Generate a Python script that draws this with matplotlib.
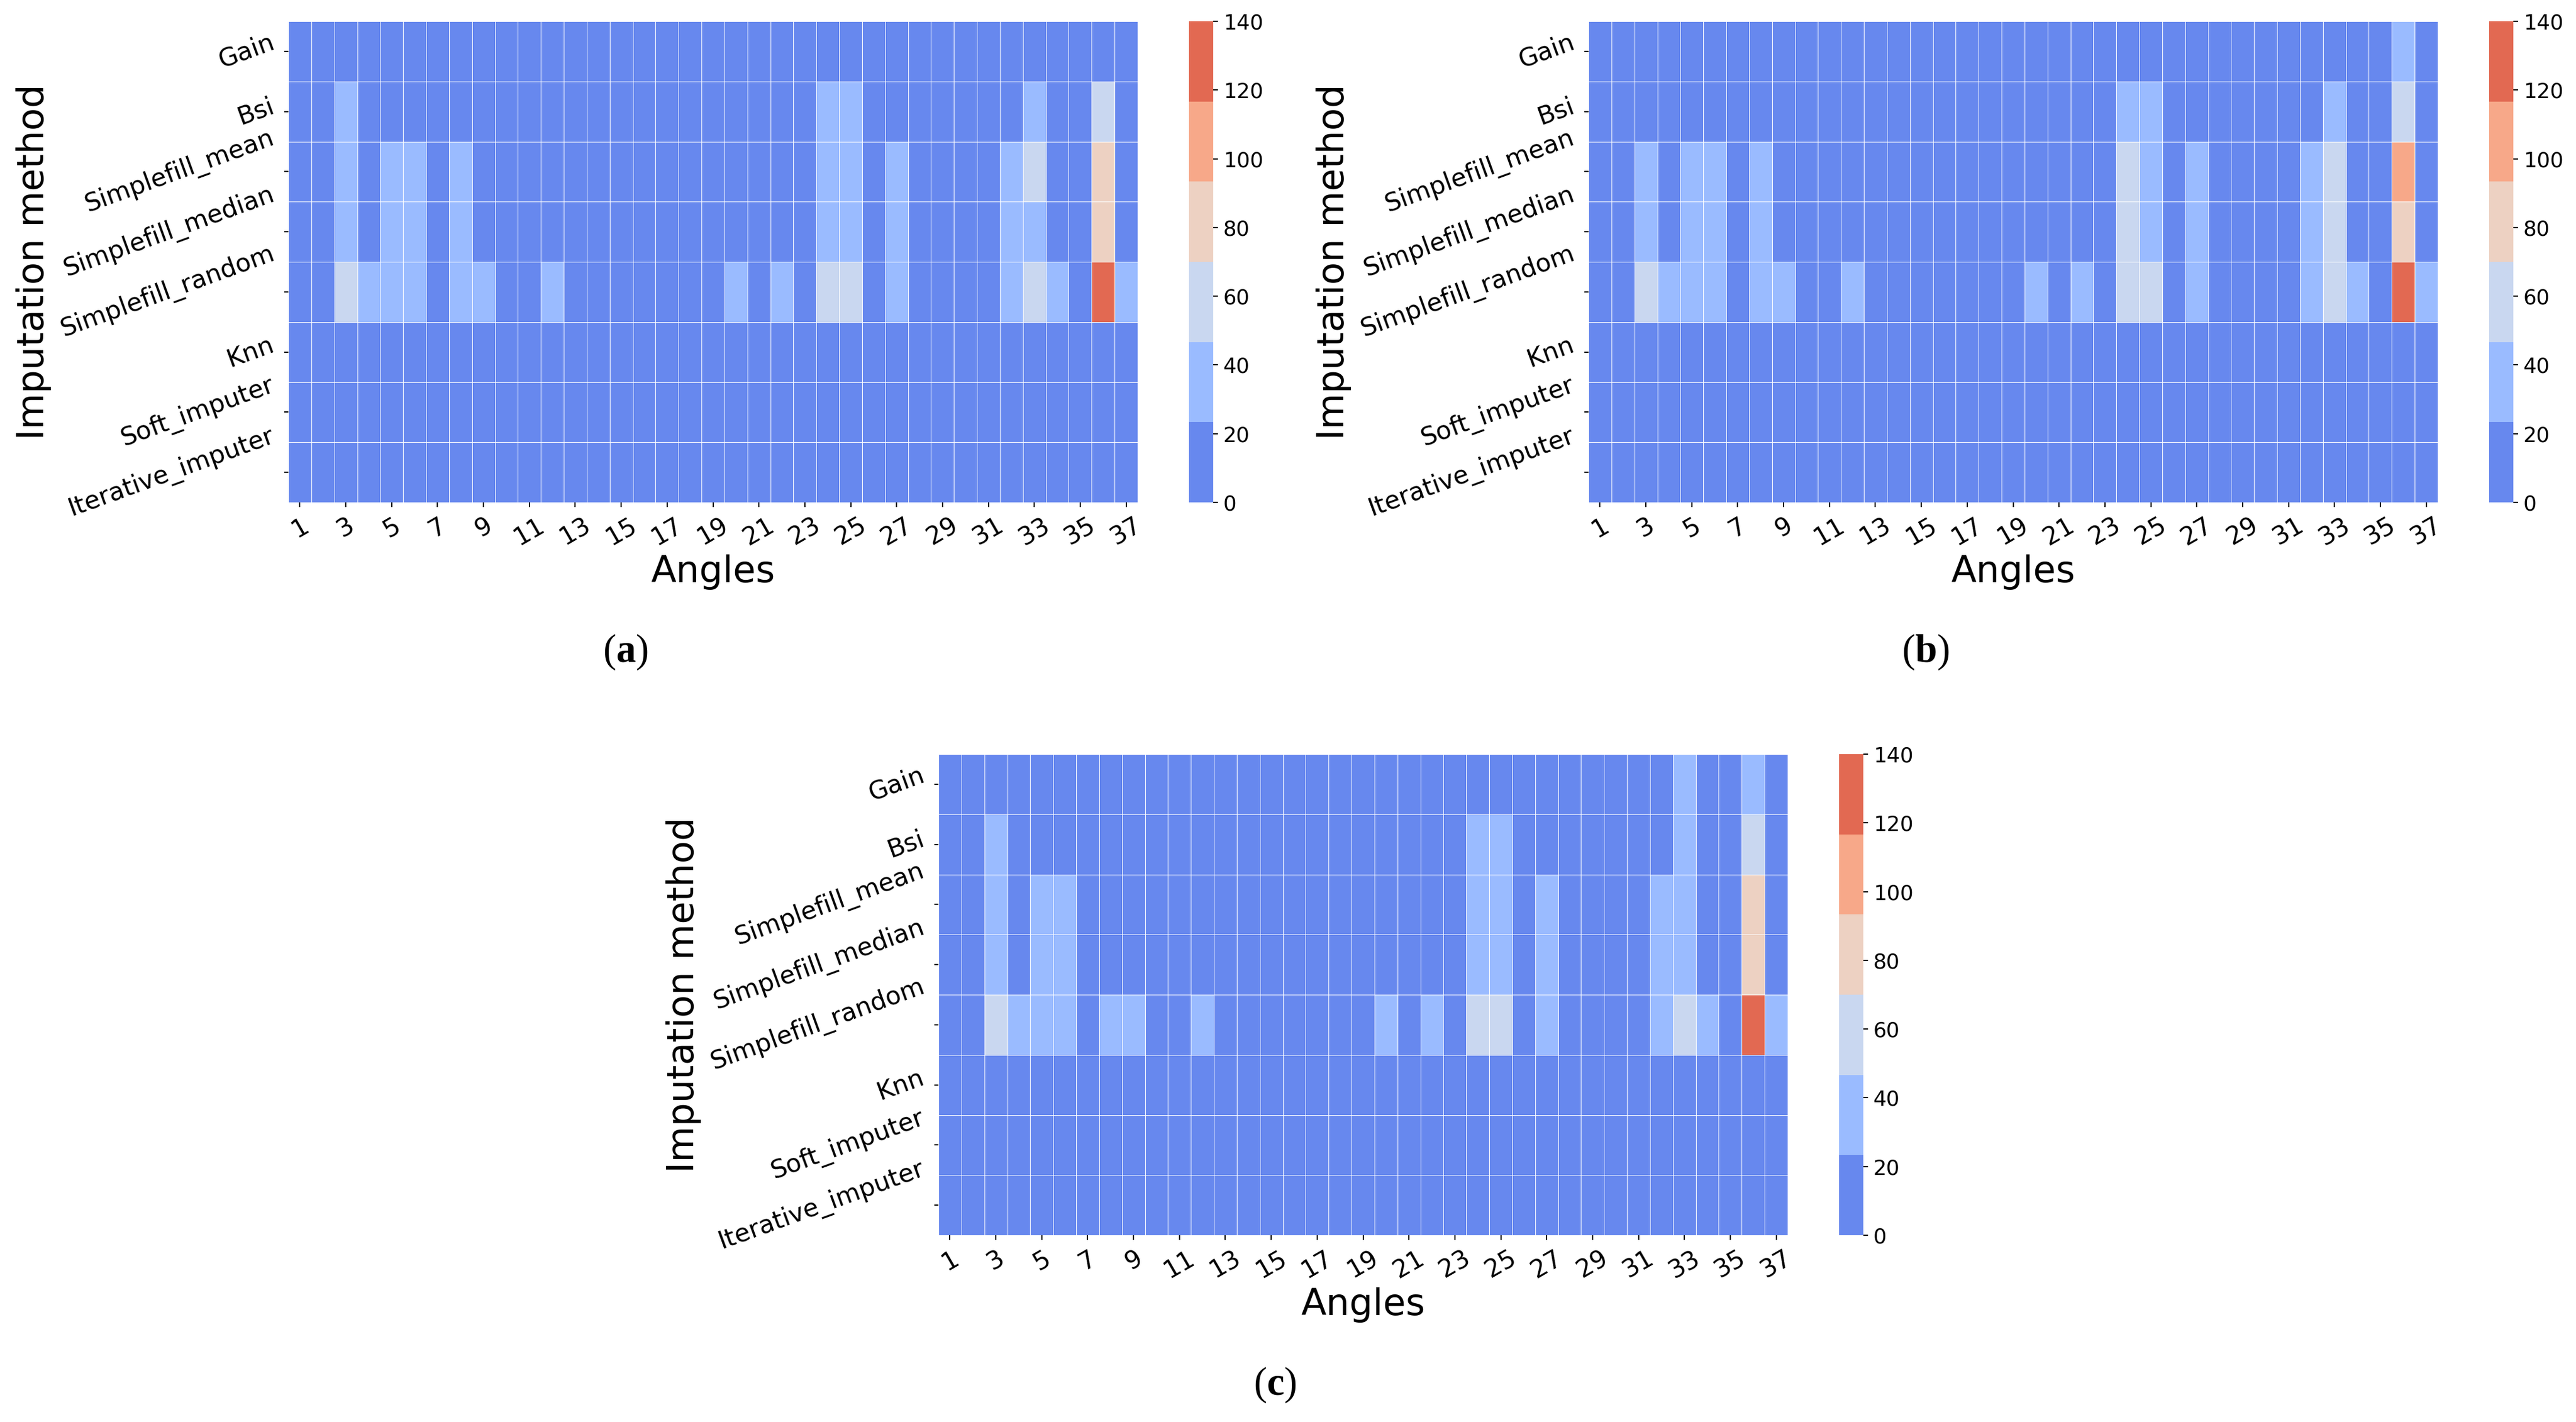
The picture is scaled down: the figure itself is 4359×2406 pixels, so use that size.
import numpy as np
import matplotlib
matplotlib.use("Agg")
import matplotlib.pyplot as plt
import seaborn as sns

plt.rcParams['font.family'] = ['DejaVu Sans']
plt.rcParams['mathtext.fontset'] = 'custom'
plt.rcParams['mathtext.rm'] = 'Liberation Serif'
plt.rcParams['mathtext.bf'] = 'Liberation Serif:bold'

# data ------------------------------------------------------------------------
methods = ["Gain", "Bsi", "Simplefill_mean", "Simplefill_median",
           "Simplefill_random", "Knn", "Soft_imputer", "Iterative_imputer"]
angles = [str(i) for i in range(1, 38)]

zero_row = [8] * 37

random_row = [8, 8, 58, 35, 35, 35, 8, 35, 35, 8,
              8, 35, 8, 8, 8, 8, 8, 8, 8, 35,
              8, 35, 8, 58, 58, 8, 35, 8, 8, 8,
              8, 35, 58, 35, 8, 130, 35]

# (a)
a_gain = zero_row
a_bsi = [8, 8, 35, 8, 8, 8, 8, 8, 8, 8,
         8, 8, 8, 8, 8, 8, 8, 8, 8, 8,
         8, 8, 8, 35, 35, 8, 8, 8, 8, 8,
         8, 8, 35, 8, 8, 58, 8]
a_mean = [8, 8, 35, 8, 35, 35, 8, 35, 8, 8,
          8, 8, 8, 8, 8, 8, 8, 8, 8, 8,
          8, 8, 8, 35, 35, 8, 35, 8, 8, 8,
          8, 35, 58, 8, 8, 82, 8]
a_median = [8, 8, 35, 8, 35, 35, 8, 35, 8, 8,
            8, 8, 8, 8, 8, 8, 8, 8, 8, 8,
            8, 8, 8, 35, 35, 8, 35, 8, 8, 8,
            8, 35, 35, 8, 8, 82, 8]
a_random = random_row

# (b)
b_gain = [8, 8, 8, 8, 8, 8, 8, 8, 8, 8,
          8, 8, 8, 8, 8, 8, 8, 8, 8, 8,
          8, 8, 8, 8, 8, 8, 8, 8, 8, 8,
          8, 8, 8, 8, 8, 35, 8]
b_bsi = [8, 8, 8, 8, 8, 8, 8, 8, 8, 8,
         8, 8, 8, 8, 8, 8, 8, 8, 8, 8,
         8, 8, 8, 35, 35, 8, 8, 8, 8, 8,
         8, 8, 35, 8, 8, 58, 8]
b_mean = [8, 8, 35, 8, 35, 35, 8, 35, 8, 8,
          8, 8, 8, 8, 8, 8, 8, 8, 8, 8,
          8, 8, 8, 58, 35, 8, 35, 8, 8, 8,
          8, 35, 58, 8, 8, 105, 8]
b_median = [8, 8, 35, 8, 35, 35, 8, 35, 8, 8,
            8, 8, 8, 8, 8, 8, 8, 8, 8, 8,
            8, 8, 8, 58, 35, 8, 35, 8, 8, 8,
            8, 35, 58, 8, 8, 82, 8]
b_random = random_row

# (c)
c_gain = [8, 8, 8, 8, 8, 8, 8, 8, 8, 8,
          8, 8, 8, 8, 8, 8, 8, 8, 8, 8,
          8, 8, 8, 8, 8, 8, 8, 8, 8, 8,
          8, 8, 35, 8, 8, 35, 8]
c_bsi = [8, 8, 35, 8, 8, 8, 8, 8, 8, 8,
         8, 8, 8, 8, 8, 8, 8, 8, 8, 8,
         8, 8, 8, 35, 35, 8, 8, 8, 8, 8,
         8, 8, 35, 8, 8, 58, 8]
c_mean = [8, 8, 35, 8, 35, 35, 8, 8, 8, 8,
          8, 8, 8, 8, 8, 8, 8, 8, 8, 8,
          8, 8, 8, 35, 35, 8, 35, 8, 8, 8,
          8, 35, 35, 8, 8, 82, 8]
c_median = [8, 8, 35, 8, 35, 35, 8, 8, 8, 8,
            8, 8, 8, 8, 8, 8, 8, 8, 8, 8,
            8, 8, 8, 35, 35, 8, 35, 8, 8, 8,
            8, 35, 35, 8, 8, 82, 8]
c_random = random_row

panel_a = np.array([a_gain, a_bsi, a_mean, a_median, a_random, zero_row, zero_row, zero_row])
panel_b = np.array([b_gain, b_bsi, b_mean, b_median, b_random, zero_row, zero_row, zero_row])
panel_c = np.array([c_gain, c_bsi, c_mean, c_median, c_random, zero_row, zero_row, zero_row])

# layout (pixels of the 4359x2406 canvas) -----------------------------------------
W, H = 4359, 2406
def rect(x0, y0, x1, y1):
    return [x0 / W, 1 - y1 / H, (x1 - x0) / W, (y1 - y0) / H]

panels = [
    (panel_a, 0, 0, "a"),
    (panel_b, 2200, 0, "b"),
    (panel_c, 1100, 1240, "c"),
]

colors = sns.color_palette("coolwarm", 6)

fig = plt.figure(figsize=(W / 300, H / 300), dpi=300)

for data, dx, dy, tag in panels:
    ax = fig.add_axes(rect(488 + dx, 36 + dy, 1925 + dx, 850 + dy))
    cax = fig.add_axes(rect(2012 + dx, 36 + dy, 2053 + dx, 850 + dy))
    sns.heatmap(data, ax=ax, cbar_ax=cax, cmap=colors, vmin=0, vmax=140,
                linewidths=0.2, linecolor="white",
                xticklabels=2, yticklabels=methods,
                cbar_kws={"ticks": np.arange(0, 141, 20)})
    ax.set_xticklabels(angles[::2])
    plt.setp(ax.get_xticklabels(), rotation=30, fontsize=10)
    plt.setp(ax.get_yticklabels(), rotation=20, fontsize=10.2)
    ax.tick_params(length=1.8, width=0.5, pad=2.5)
    ax.set_xlabel("Angles", fontsize=15)
    ax.set_ylabel("Imputation method", fontsize=15)
    ax.xaxis.set_label_coords(0.5, -0.108)
    ax.yaxis.set_label_coords(-0.279, 0.5)
    cax.tick_params(labelsize=8.5, length=2, width=0.5, pad=2)
    fig.text((1058 + dx) / W, 1 - (1103 + dy) / H, r"($\mathbf{%s}$)" % tag,
             ha="center", va="center", fontsize=16, family="Liberation Serif")

fig.savefig("out.png", dpi=300)
